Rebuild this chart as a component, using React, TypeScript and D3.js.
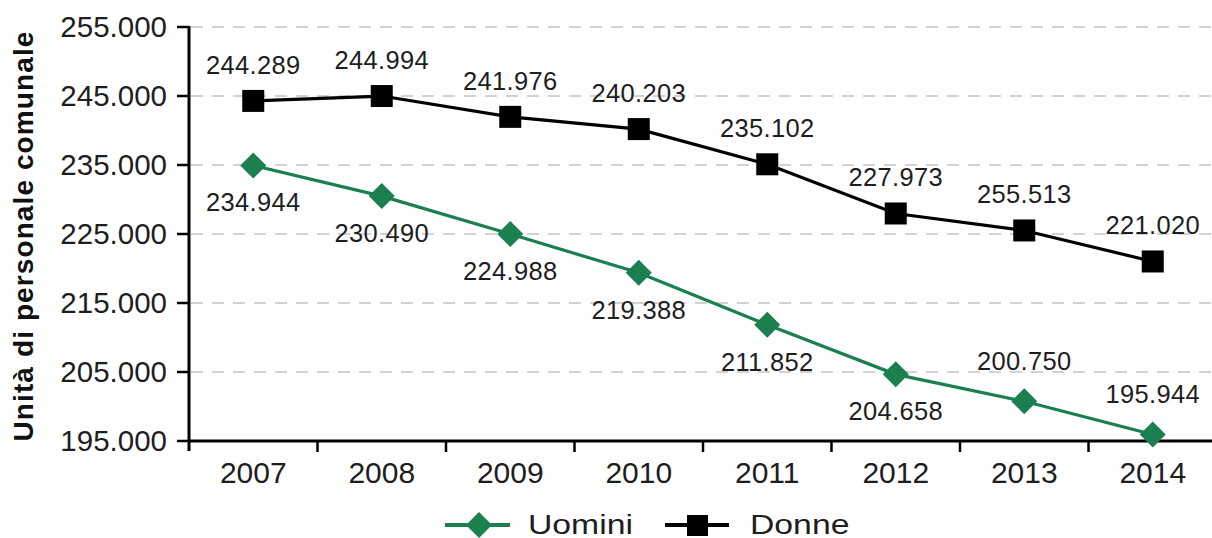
import * as d3 from "d3";

const years = ["2007", "2008", "2009", "2010", "2011", "2012", "2013", "2014"];
const uomini = [234944, 230490, 224988, 219388, 211852, 204658, 200750, 195944];
const donne = [244289, 244994, 241976, 240203, 235102, 227973, 225513, 221020];
// printed labels as in the source (2013 reads 255.513 there)
const donneLabels = ["244.289", "244.994", "241.976", "240.203", "235.102", "227.973", "255.513", "221.020"];
const yTicks = [195000, 205000, 215000, 225000, 235000, 245000, 255000];

const W = 1212;
const H = 538;
const green = "#1b7f50";
const font = "'Liberation Sans', Arial, Helvetica, sans-serif";

const it = d3.formatLocale({ decimal: ",", thousands: ".", grouping: [3], currency: ["€", ""] });
const fmt = it.format(",d");

export default function App() {
  const x = d3.scaleBand<string>().domain(years).range([189, 1217]).padding(0);
  const y = d3.scaleLinear().domain([195000, 255000]).range([441, 27]);
  const cx = (i: number) => (x(years[i]) as number) + x.bandwidth() / 2;

  const line = d3.line<number>().x((_, i) => cx(i)).y(d => y(d));
  const diamond = (px: number, py: number, r: number) =>
    `M${px},${py - r}L${px + r},${py}L${px},${py + r}L${px - r},${py}Z`;

  return (
    <svg width={W} height={H} style={{ position: "absolute", left: 0, top: 0, background: "#fff" }} fontFamily={font}>
      {/* grid */}
      {yTicks.filter(t => t > 195000).map(t => (
        <line key={"g" + t} x1={191} x2={W} y1={y(t)} y2={y(t)} stroke="#d2d2d2" strokeWidth={2} strokeDasharray="12,9" />
      ))}

      {/* y axis */}
      <line x1={189} x2={189} y1={y(255000) - 1} y2={451} stroke="#000" strokeWidth={3} />
      {yTicks.map(t => (
        <g key={"y" + t}>
          <line x1={177} x2={189} y1={y(t)} y2={y(t)} stroke="#000" strokeWidth={2.5} />
          <text x={167} y={y(t) + 10} textAnchor="end" fontSize={29.5} fill="#1e1e1e">{fmt(t)}</text>
        </g>
      ))}
      <text transform={`translate(33,236) rotate(-90)`} textAnchor="middle" fontSize={28} fontWeight="bold" letterSpacing={1.1} fill="#111">
        Unità di personale comunale
      </text>

      {/* x axis */}
      <line x1={188} x2={1217} y1={441} y2={441} stroke="#000" strokeWidth={3} />
      {years.slice(1).map(yr => (
        <line key={"xt" + yr} x1={x(yr)} x2={x(yr)} y1={441} y2={452} stroke="#000" strokeWidth={2.5} />
      ))}
      {years.map((yr, i) => (
        <text key={"xl" + yr} x={cx(i)} y={483} textAnchor="middle" fontSize={30} fill="#1e1e1e">{yr}</text>
      ))}

      {/* Donne */}
      <path d={line(donne) ?? ""} fill="none" stroke="#000" strokeWidth={3.2} />
      {donne.map((v, i) => (
        <rect key={"dm" + i} x={cx(i) - 11} y={y(v) - 11} width={22} height={22} fill="#000" />
      ))}
      {donne.map((v, i) => (
        <text key={"dl" + i} x={cx(i)} y={y(v) - 27} textAnchor="middle" fontSize={25.5} letterSpacing={0.3} fill="#1e1e1e">
          {donneLabels[i]}
        </text>
      ))}

      {/* Uomini */}
      <path d={line(uomini) ?? ""} fill="none" stroke={green} strokeWidth={3.2} />
      {uomini.map((v, i) => (
        <path key={"um" + i} d={diamond(cx(i), y(v), 13)} fill={green} />
      ))}
      {uomini.map((v, i) => (
        <text key={"ul" + i} x={cx(i)} y={i >= 6 ? y(v) - 31 : y(v) + 46} textAnchor="middle" fontSize={25.5} letterSpacing={0.3} fill="#1e1e1e">
          {fmt(v)}
        </text>
      ))}

      {/* legend */}
      <g>
        <line x1={445} x2={510} y1={525} y2={525} stroke={green} strokeWidth={4} />
        <path d={diamond(479, 525, 13)} fill={green} />
        <text transform="translate(528,534) scale(1.25,1)" fontSize={27} fill="#1e1e1e">Uomini</text>
        <line x1={665} x2={729} y1={525} y2={525} stroke="#000" strokeWidth={4} />
        <rect x={687} y={515} width={21} height={21} fill="#000" />
        <text transform="translate(750,534) scale(1.25,1)" fontSize={27} fill="#1e1e1e">Donne</text>
      </g>
    </svg>
  );
}
